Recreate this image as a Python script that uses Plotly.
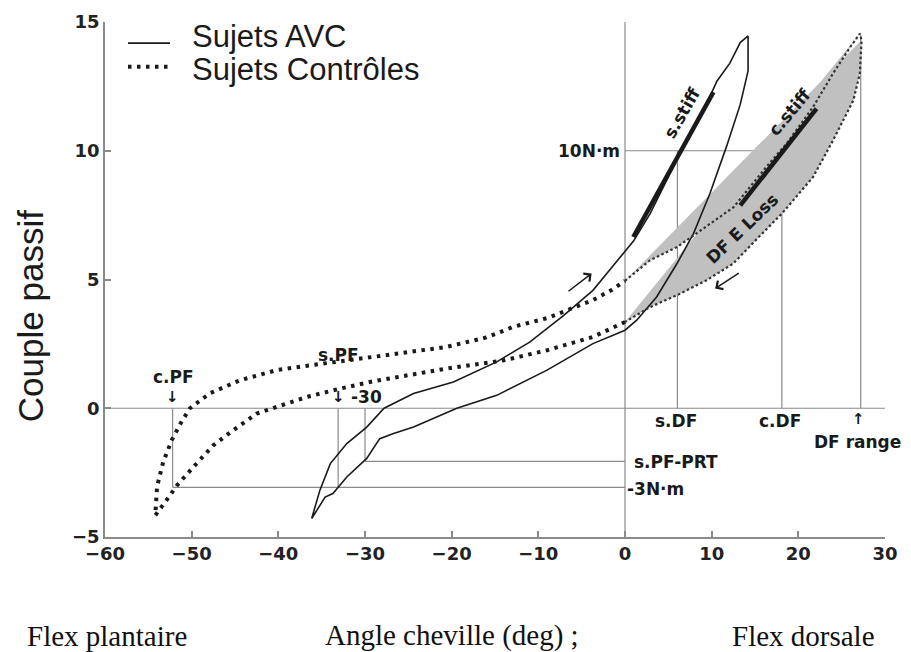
import plotly.graph_objects as go

# Sujets Contrôles (dotted loop): loading branch then unloading branch
ctrl_up_x = [-54.2, -54.0, -53.3, -52.3, -51.3, -50.2, -47.9, -44.4, -40.2, -36.0, -30.0, -25.0,
             -20.6, -16.0, -12.9, -9.0, -6.7, -3.7, -1.5, 0.0, 2.9, 6.0, 8.65, 12.5, 16.3, 18.65,
             21.7, 24.0, 26.0, 27.1]
ctrl_up_y = [-4.16, -3.06, -2.1, -1.24, -0.6, 0.0, 0.58, 1.09, 1.48, 1.68, 1.95, 2.2,
             2.38, 2.75, 3.16, 3.5, 3.8, 4.2, 4.6, 4.95, 5.75, 6.26, 6.9, 7.8, 9.37, 10.28,
             11.7, 13.0, 14.03, 14.55]
ctrl_dn_x = [27.3, 27.1, 26.35, 24.0, 21.7, 18.1, 15.0, 12.5, 9.4, 6.0, 2.9, 0.0, -3.7, -9.0,
             -14.0, -20.6, -26.0, -29.0, -32.9, -36.7, -40.2, -42.5, -45.2, -47.5, -49.8, -51.7,
             -52.9, -54.2]
ctrl_dn_y = [14.3, 13.0, 11.96, 10.4, 8.98, 7.56, 6.5, 5.62, 4.97, 4.39, 3.93, 3.35, 2.77, 2.25,
             1.86, 1.54, 1.25, 1.05, 0.76, 0.44, 0.05, -0.21, -0.85, -1.44, -2.28, -3.0,
             -3.57, -4.16]

# Sujets AVC (solid loop)
avc_up_x = [-36.15, -35.2, -34.0, -32.1, -29.8, -27.8, -24.4, -19.8, -14.8, -11.0, -7.1, -3.7,
            -1.2, 1.0, 2.9, 6.35, 9.8, 10.6, 12.1, 13.3, 14.0, 14.2]
avc_up_y = [-4.28, -3.18, -2.15, -1.37, -0.73, 0.0, 0.57, 1.02, 1.8, 2.57, 3.6, 4.58,
            5.6, 6.5, 7.56, 9.9, 12.1, 12.7, 13.4, 14.2, 14.4, 14.46]
avc_dn_x = [14.2, 13.3, 11.7, 9.8, 7.9, 6.0, 3.65, 1.35, 0.0, -0.6, -3.7, -9.0, -14.8, -19.4,
            -24.4, -26.7, -28.3, -29.8, -32.1, -33.7, -34.6, -36.15]
avc_dn_y = [13.1, 11.8, 10.15, 8.34, 6.78, 5.62, 4.32, 3.42, 3.03, 2.95, 2.51, 1.48, 0.5, 0.0,
            -0.73, -0.98, -1.18, -1.95, -2.67, -3.31, -3.45, -4.28]

# stiffness segments
s_stiff_x = [0.96, 10.2]
s_stiff_y = [6.65, 12.28]
c_stiff_x = [13.3, 22.1]
c_stiff_y = [7.88, 11.64]

# landmarks
s_DF, c_DF, DF_range, DF_range_top = 6.05, 18.1, 27.2, 14.5
c_PF, s_PF, s_PF_30 = -52.2, -33.1, -30.0
torque_10, torque_m3, torque_prt = 10.0, -3.07, -2.06

x_ticks = [-60, -50, -40, -30, -20, -10, 0, 10, 20, 30]
y_ticks = [-5, 0, 5, 10, 15]

INK = "#1a1a1a"
GRID = "#8a8a8a"
BOLD = "DejaVu Sans"
BIG_DOT = dict(color=INK, width=4, dash="3.5px,5.5px")
FINE_DOT = dict(color="#333", width=2.2, dash="2.5px,2.5px")

fig = go.Figure()

# shaded DF energy loss area (control loop, x >= 0)
shade_x = [x for x in ctrl_up_x if x >= 0] + [x for x in ctrl_dn_x if x >= 0][::-1]
shade_y = [y for x, y in zip(ctrl_up_x, ctrl_up_y) if x >= 0] + \
          [y for x, y in zip(ctrl_dn_x, ctrl_dn_y) if x >= 0][::-1]
fig.add_trace(go.Scatter(x=shade_x, y=shade_y, fill="toself", fillcolor="#c0c0c0",
                         line=dict(width=0), mode="lines", hoverinfo="skip"))

# reference lines
def seg(x0, y0, x1, y1):
    fig.add_shape(type="line", x0=x0, y0=y0, x1=x1, y1=y1, xref="x", yref="y",
                  line=dict(color=GRID, width=1.2), layer="below")

seg(-60, 0, 30, 0)
seg(0, -5, 0, 15)
seg(0, torque_10, c_DF, torque_10)
seg(s_DF, 0, s_DF, torque_10)
seg(c_DF, 0, c_DF, torque_10)
seg(DF_range, 0, DF_range, DF_range_top)
seg(c_PF, torque_m3, 0, torque_m3)
seg(c_PF, 0, c_PF, torque_m3)
seg(s_PF, 0, s_PF, torque_m3)
seg(s_PF_30, torque_prt, 0, torque_prt)
seg(s_PF_30, 0, s_PF_30, torque_prt)

fig.add_trace(go.Scatter(x=avc_up_x + avc_dn_x, y=avc_up_y + avc_dn_y, mode="lines",
                         line=dict(color=INK, width=1.6), name="Sujets AVC"))

# control loop: heavy dots on the plantar side, fine dots around the shaded area
neg_x = [x for x in ctrl_dn_x if x <= 0] + [x for x in ctrl_up_x if x <= 0]
neg_y = [y for x, y in zip(ctrl_dn_x, ctrl_dn_y) if x <= 0] + \
        [y for x, y in zip(ctrl_up_x, ctrl_up_y) if x <= 0]
pos_x = [x for x in ctrl_up_x if x >= 0] + [x for x in ctrl_dn_x if x >= 0]
pos_y = [y for x, y in zip(ctrl_up_x, ctrl_up_y) if x >= 0] + \
        [y for x, y in zip(ctrl_dn_x, ctrl_dn_y) if x >= 0]
fig.add_trace(go.Scatter(x=neg_x, y=neg_y, mode="lines", line=BIG_DOT, name="Sujets Contrôles"))
fig.add_trace(go.Scatter(x=pos_x, y=pos_y, mode="lines", line=FINE_DOT, name="Sujets Contrôles"))

fig.add_trace(go.Scatter(x=s_stiff_x, y=s_stiff_y, mode="lines",
                         line=dict(color=INK, width=4.5)))
fig.add_trace(go.Scatter(x=c_stiff_x, y=c_stiff_y, mode="lines",
                         line=dict(color=INK, width=4.5)))

def txt(x, y, t, xa="center", ang=0, size=17):
    fig.add_annotation(x=x, y=y, text=t, showarrow=False, xanchor=xa,
                       yanchor="middle", textangle=ang,
                       font=dict(family=BOLD, size=size, color=INK, weight="bold"))

txt(-52.1, 1.22, "c.PF")
txt(-52.2, 0.44, "↓", size=15)
txt(-33.1, 2.06, "s.PF")
txt(-33.1, 0.44, "↓", size=15)
txt(-31.9, 0.44, "-30", xa="left")
txt(-0.3, 10.0, "10N·m", xa="right")
txt(5.9, -0.5, "s.DF")
txt(17.9, -0.5, "c.DF")
txt(26.9, -0.4, "↑", size=15)
txt(26.8, -1.31, "DF range")
txt(0.8, -2.08, "s.PF-PRT", xa="left")
txt(0.0, -3.12, "-3N·m", xa="left")
txt(6.6, 11.45, "s.stiff", ang=-60)
txt(19.0, 11.5, "c.stiff", ang=-50)
txt(13.45, 6.98, "DF E Loss", ang=-44)

# direction arrows
fig.add_annotation(x=-3.85, y=5.23, ax=-6.7, ay=4.5, xref="x", yref="y", axref="x", ayref="y",
                   text="", showarrow=True, arrowhead=4, arrowsize=1.3, arrowwidth=1.5,
                   arrowcolor=INK)
fig.add_annotation(x=10.4, y=4.65, ax=13.3, ay=5.29, xref="x", yref="y", axref="x", ayref="y",
                   text="", showarrow=True, arrowhead=4, arrowsize=1.3, arrowwidth=1.5,
                   arrowcolor=INK)

# legend (drawn by hand to match the original spacing)
fig.add_shape(type="line", xref="paper", yref="paper", x0=0.0295, x1=0.0833, y0=0.959, y1=0.959,
              line=dict(color=INK, width=1.6))
fig.add_shape(type="line", xref="paper", yref="paper", x0=0.0295, x1=0.0833, y0=0.913, y1=0.913,
              line=BIG_DOT)
leg_font = dict(family="Liberation Sans", size=31, color=INK)
fig.add_annotation(x=0.109, y=0.971, xref="paper", yref="paper", text="Sujets AVC",
                   showarrow=False, xanchor="left", yanchor="middle", font=leg_font)
fig.add_annotation(x=0.109, y=0.907, xref="paper", yref="paper", text="Sujets Contrôles",
                   showarrow=False, xanchor="left", yanchor="middle", font=leg_font)

# axis titles
fig.add_annotation(x=-0.096, y=0.429, xref="paper", yref="paper", text="Couple passif",
                   showarrow=False, textangle=-90, xanchor="center", yanchor="middle",
                   font=dict(family="Liberation Sans", size=35, color=INK))
serif = dict(family="Liberation Serif", size=29, color="#111")
fig.add_annotation(x=-0.1026, y=-0.192, xref="paper", yref="paper", text="Flex plantaire",
                   showarrow=False, xanchor="left", yanchor="middle", font=serif)
fig.add_annotation(x=0.2795, y=-0.192, xref="paper", yref="paper", text="Angle cheville (deg) ;",
                   showarrow=False, xanchor="left", yanchor="middle", font=serif)
fig.add_annotation(x=0.801, y=-0.192, xref="paper", yref="paper", text="Flex dorsale",
                   showarrow=False, xanchor="left", yanchor="middle", font=serif)

axis_common = dict(showgrid=False, zeroline=False, showline=True, linecolor=GRID, linewidth=1.5,
                   ticks="inside", ticklen=6, tickcolor=GRID, tickwidth=1.5, automargin=False,
                   tickfont=dict(family=BOLD, size=18, color="#222", weight="bold"))
fig.update_xaxes(range=[-60, 30], tickvals=x_ticks, **axis_common)
fig.update_yaxes(range=[-5, 15], tickvals=y_ticks, **axis_common)

# the page body adds an 8px offset, so the figure is 8px smaller on each side
fig.update_layout(width=903, height=644, margin=dict(l=97, r=26, t=14, b=115),
                  plot_bgcolor="white", paper_bgcolor="white", showlegend=False)

fig.write_html("out.html")
